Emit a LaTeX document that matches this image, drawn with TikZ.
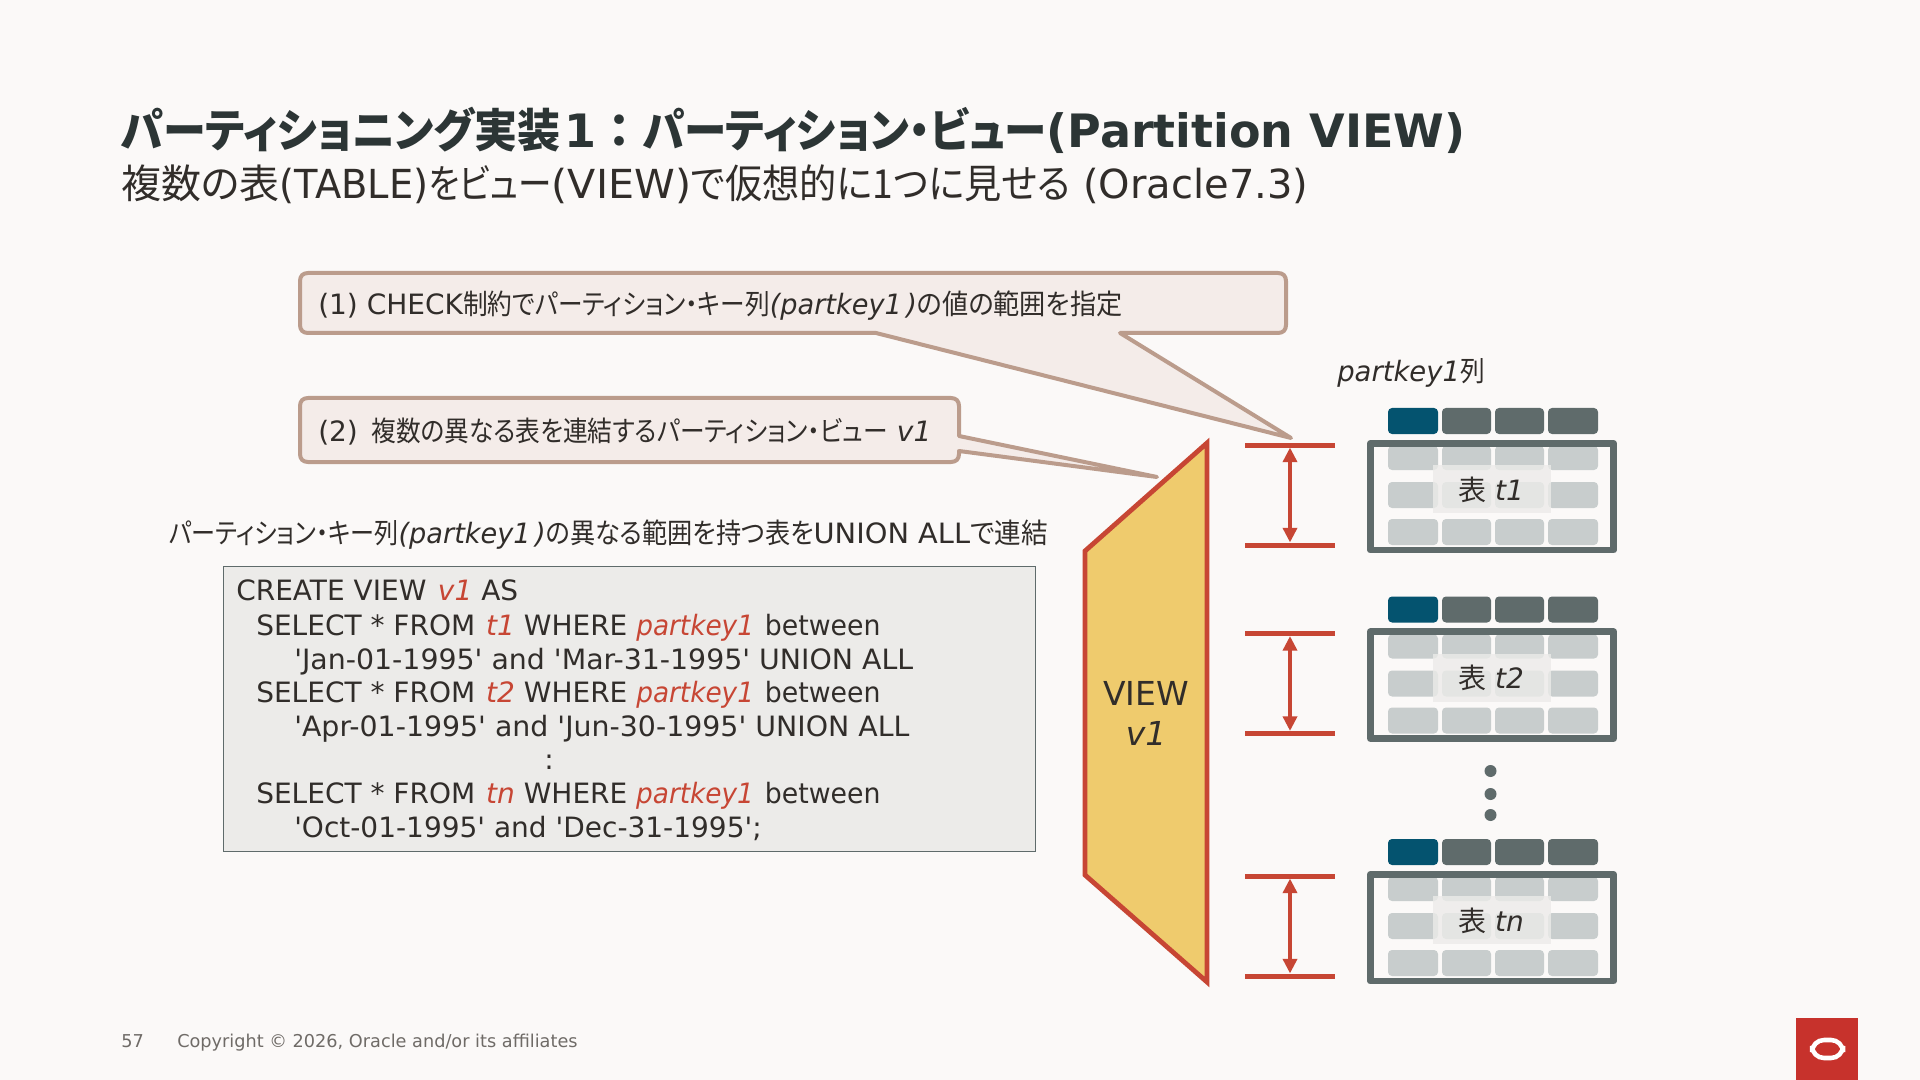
\documentclass[tikz,border=0pt]{standalone}
\usepackage{fontspec}
\setmainfont{DejaVu Sans}[Ligatures=TeXOff]
\newfontfamily\jp[RawFeature=+palt]{Noto Sans CJK JP}
\newcommand{\J}[2][1]{\scalebox{#1}[1]{\jp #2}}
\newcommand{\SX}[2]{\scalebox{#1}[1]{#2}}
\newcommand{\I}[1]{\textit{#1}}
\newcommand{\R}[1]{\textcolor{orared}{\textit{#1}}}
\newcommand{\fs}[1]{\fontsize{\dimexpr #1pt*3/4\relax}{\dimexpr #1pt*3/4\relax}\selectfont}
\newcommand{\PK}{\SX{.94}{\R{partkey1}}}
\newcommand{\BW}{\SX{.955}{between}}
\definecolor{bgc}{HTML}{FBF9F8}
\definecolor{ink}{HTML}{312D2A}
\definecolor{titleink}{HTML}{2C3535}
\definecolor{orared}{HTML}{C74634}
\definecolor{logored}{HTML}{C7322C}
\definecolor{calloutline}{HTML}{BB9C8C}
\definecolor{calloutfill}{HTML}{F4ECE9}
\definecolor{viewfill}{HTML}{EFCB6D}
\definecolor{frameg}{HTML}{5F6B6B}
\definecolor{footg}{HTML}{6F6B67}
\definecolor{cellg}{HTML}{C8CDCD}
\definecolor{headb}{HTML}{04536F}
\definecolor{codebg}{HTML}{ECEBE9}
\usetikzlibrary{arrows.meta}
\tikzset{
 txt/.style={anchor=base west,inner sep=0pt,text=ink},
 callout/.style={draw=calloutline,fill=calloutfill,line width=3pt,line join=round},
 redbar/.style={draw=orared,line width=3.75pt},
 redarrow/.style={draw=orared,line width=3.6pt,{Triangle[length=11pt,width=10.5pt]}-{Triangle[length=11pt,width=10.5pt]},shorten >=1.9pt,shorten <=1.9pt},
 cell/.style={fill=cellg,rounded corners=3pt},
 headcell/.style={fill=frameg,rounded corners=3pt},
}
\begin{document}
\begin{tikzpicture}[x=0.75pt,y=-0.75pt,every node/.append style={font=\fs{28}}]
\useasboundingbox (0,0) rectangle (1920,1080);
\fill[bgc] (0,0) rectangle (1920,1080);
% title
\node[txt,text=titleink] (title) at (121,148) {\fs{46}\bfseries\J[.935]{パーティショニング実装}\hspace{3pt}1\hspace{9.2pt}\J{：}\hspace{8.4pt}\J[.923]{パーティション・ビュー}\SX{1.0}{(Partition VIEW)}};
\node[txt] (subtitle) at (121,199) {\fs{40}\J{複数の表}\SX{.96}{(TABLE)}\J[.84]{をビュー}\SX{1.03}{(VIEW)}\J[.93]{で仮想的に1つに見せる} (Oracle7.3)};
% callouts
\draw[callout] (308,273) -- (1278,273) .. controls (1283,273) and (1286,276) .. (1286,281) -- (1286,325) .. controls (1286,330) and (1283,333) .. (1278,333) -- (1120,333) -- (1291,438) -- (876,333) -- (308,333) .. controls (303,333) and (300,330) .. (300,325) -- (300,281) .. controls (300,276) and (303,273) .. (308,273) -- cycle;
\node[txt] (c1) at (318,315) {(1) CHECK\J[.88]{制約でパーティション・キー列}\SX{.97}{\I{(partkey1\,)}}\J[.935]{の値の範囲を指定}};
\draw[callout] (308,398) -- (951,398) .. controls (956,398) and (959,401) .. (959,406) -- (959,436) -- (1157,477) -- (959,451) -- (959,454) .. controls (959,459) and (956,462) .. (951,462) -- (308,462) .. controls (303,462) and (300,459) .. (300,454) -- (300,406) .. controls (300,401) and (303,398) .. (308,398) -- cycle;
\node[txt] (c2) at (318,441) {(2) \hspace{3.5pt}\J[.882]{複数の異なる表を連結するパーティション・ビュー} \I{v1}};
\node[txt] (cap) at (169,543) {\J[.86]{パーティション・キー列}\SX{.97}{\I{(partkey1\,)}}\J[.9]{の異なる範囲を持つ表を}\SX{1.03}{UNION ALL}\J[.95]{で連結}};
% code box
\node[draw=frameg,fill=codebg,line width=1pt,minimum width=812*0.75pt,minimum height=285*0.75pt,anchor=north west,inner sep=0pt] (code) at (223,566) {};
\node[txt] at (236,600) {CREATE VIEW\hspace{2pt} \R{v1} AS};
\node[txt] at (256,635) {SELECT * FROM\hspace{1.5pt} \R{t1} WHERE \PK{}\hspace{1.5pt} \BW};
\node[txt] at (294,669) {\SX{1.014}{'Jan-01-1995' and 'Mar-31-1995' UNION ALL}};
\node[txt] at (256,702) {SELECT * FROM\hspace{1.5pt} \R{t2} WHERE \PK{}\hspace{1.5pt} \BW};
\node[txt] at (294,736) {\SX{1.014}{'Apr-01-1995' and 'Jun-30-1995' UNION ALL}};
\node[txt] at (544,769) {:};
\node[txt] at (256,803) {SELECT * FROM\hspace{1.5pt} \R{tn} WHERE \PK{}\hspace{1.5pt} \BW};
\node[txt] at (294,837) {'Oct-01-1995' and 'Dec-31-1995';};
% view
\draw[draw=orared,fill=viewfill,line width=3.6pt,line join=miter] (1207,443) -- (1207,982) -- (1085,875) -- (1085,551) -- cycle;
\node[txt,anchor=base,font=\fs{33}] (viewa) at (1146,705) {VIEW};
\node[txt,anchor=base,font=\fs{33}] (viewb) at (1146,745) {\I{v1}};
% partkey label
\node[txt] (pk) at (1337,382) {\SX{.98}{\I{partkey1}}\J[.88]{列}};
% tables
\foreach \n/\dy/\lab in {1/0/t1,2/188.5/t2,3/431/tn}{
 \begin{scope}[yshift=-\dy*0.75pt]
 \coordinate (top\n) at (1290,445);
 \coordinate (bot\n) at (1290,545);
 \draw[redbar] (1245,445) -- (1335,445);
 \draw[redbar] (1245,545) -- (1335,545);
 \draw[redarrow] (top\n) -- (bot\n);
 \fill[headb,rounded corners=3pt] (1388,408) rectangle (1438,434);
 \fill[headcell] (1442,408) rectangle (1491,434);
 \fill[headcell] (1495,408) rectangle (1544,434);
 \fill[headcell] (1548,408) rectangle (1598,434);
 \foreach \ya/\yb in {446/470,482/508,519/545}{
  \fill[cell] (1388,\ya) rectangle (1438,\yb);
  \fill[cell] (1442,\ya) rectangle (1491,\yb);
  \fill[cell] (1495,\ya) rectangle (1544,\yb);
  \fill[cell] (1548,\ya) rectangle (1598,\yb);
 }
 \draw[frameg,line width=5pt,line join=round] (1370.3,443.3) rectangle (1613.7,550);
 \fill[codebg,fill opacity=0.8] (1433,465) rectangle (1551,513);
 \node[txt,anchor=base] (lab\n) at (1491,500) {\J{表} \I{\lab}};
 \end{scope}
}
\foreach \y in {771,794,815}{\fill[frameg] (1490.5,\y) circle (6);}
% footer
\node[txt,font=\fs{17.7},text=footg] (pg) at (121,1047) {57};
\node[txt,font=\fs{17.7},text=footg] (copy) at (177,1047) {Copyright © 2026, Oracle and/or its affiliates};
% logo
\fill[logored] (1796,1018) rectangle (1858,1080);
\draw[white,line width=3.4pt,rounded corners=9pt] (1812,1040) rectangle (1843,1058);
\end{tikzpicture}
\end{document}
